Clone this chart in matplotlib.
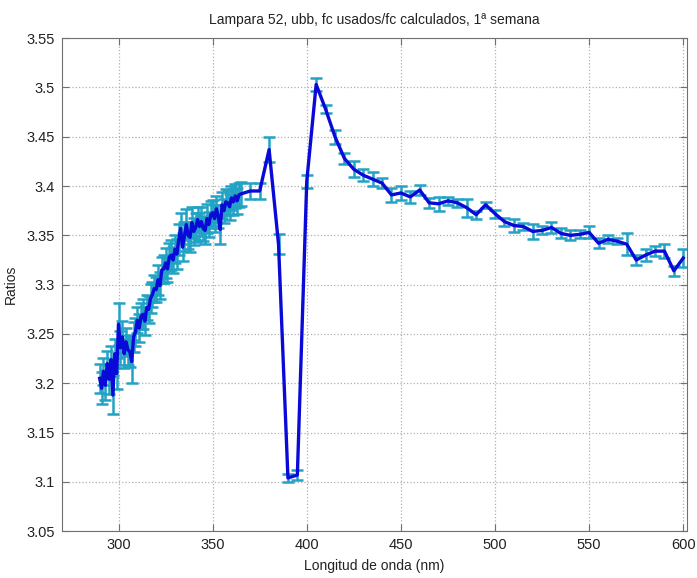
import numpy as np
import matplotlib.pyplot as plt

plt.rcParams['font.family'] = ['Liberation Sans', 'DejaVu Sans']

# Dense scan, 1 nm steps
wl_dense = list(range(290, 366))
ratio_dense = [3.205, 3.195, 3.212, 3.198, 3.220, 3.204, 3.224, 3.188, 3.230, 3.210,
               3.260, 3.236, 3.247, 3.230, 3.242, 3.234, 3.232, 3.222, 3.247, 3.252,
               3.264, 3.256, 3.268, 3.270, 3.263, 3.277, 3.275, 3.286, 3.290, 3.296,
               3.295, 3.305, 3.299, 3.315, 3.316, 3.322, 3.316, 3.328, 3.330, 3.325,
               3.336, 3.331, 3.346, 3.357, 3.338, 3.349, 3.361, 3.350, 3.348, 3.363,
               3.354, 3.358, 3.366, 3.359, 3.364, 3.357, 3.355, 3.367, 3.361, 3.371,
               3.373, 3.367, 3.377, 3.369, 3.356, 3.381, 3.375, 3.384, 3.383, 3.379,
               3.388, 3.384, 3.390, 3.385, 3.391, 3.392]
err_dense = [0.015, 0.016, 0.014, 0.015, 0.013, 0.015, 0.014, 0.019, 0.015, 0.016,
             0.021, 0.017, 0.016, 0.015, 0.014, 0.015, 0.016, 0.022, 0.015, 0.014,
             0.013, 0.014, 0.013, 0.015, 0.014, 0.013, 0.014, 0.015, 0.013, 0.014,
             0.013, 0.015, 0.014, 0.013, 0.014, 0.015, 0.013, 0.014, 0.015, 0.013,
             0.014, 0.015, 0.016, 0.016, 0.014, 0.015, 0.016, 0.014, 0.015, 0.016,
             0.014, 0.015, 0.013, 0.014, 0.015, 0.013, 0.014, 0.015, 0.013, 0.014,
             0.013, 0.014, 0.013, 0.012, 0.015, 0.013, 0.012, 0.013, 0.012, 0.013,
             0.012, 0.013, 0.012, 0.013, 0.012, 0.012]

# Coarse scan, 5 nm steps
wl_coarse = list(range(370, 601, 5))
ratio_coarse = [3.395, 3.395, 3.437, 3.341, 3.104, 3.107, 3.405, 3.503, 3.478, 3.450,
                3.428, 3.417, 3.411, 3.407, 3.403, 3.391, 3.393, 3.389, 3.396, 3.383,
                3.382, 3.385, 3.383, 3.378, 3.371, 3.381, 3.372, 3.364, 3.360, 3.359,
                3.354, 3.355, 3.358, 3.352, 3.350, 3.351, 3.353, 3.342, 3.346, 3.344,
                3.341, 3.325, 3.330, 3.334, 3.334, 3.314, 3.327]
err_coarse = [0.008, 0.008, 0.013, 0.010, 0.004, 0.005, 0.0065, 0.007, 0.004, 0.007,
              0.006, 0.008, 0.006, 0.007, 0.005, 0.007, 0.007, 0.006, 0.005, 0.005,
              0.007, 0.004, 0.004, 0.009, 0.004, 0.003, 0.004, 0.004, 0.007, 0.004,
              0.008, 0.004, 0.006, 0.005, 0.005, 0.004, 0.006, 0.005, 0.004, 0.003,
              0.011, 0.005, 0.006, 0.005, 0.007, 0.005, 0.009]

wl = np.array(wl_dense + wl_coarse)
ratio = np.array(ratio_dense + ratio_coarse)
err = np.array(err_dense + err_coarse)

fig = plt.figure(figsize=(6.97, 5.78), dpi=100)
ax = fig.add_axes([0.089, 0.081, 0.8967, 0.853])

ax.errorbar(wl, ratio, yerr=err, fmt='none', ecolor='#22a2c4', elinewidth=1.8,
            capsize=4.5, capthick=1.8, zorder=2)
ax.plot(wl, ratio, color='#0a0ad8', linewidth=2.4, zorder=3)

ax.set_xlim(270, 602)
ax.set_ylim(3.05, 3.55)
ax.set_xticks(np.arange(300, 601, 50))
yt = np.arange(3.05, 3.551, 0.05)
ax.set_yticks(yt)
ax.set_yticklabels([('%.2f' % v).rstrip('0') for v in yt])

ax.grid(True, linestyle=':', color='#b0b0b0', linewidth=0.9)
ax.tick_params(direction='in', top=True, right=True, length=5, colors='#707070',
               labelcolor='#222222', labelsize=10.5, pad=5)
for s in ax.spines.values():
    s.set_color('#707070')

ax.set_title('Lampara 52, ubb, fc usados/fc calculados, 1ª semana', fontsize=10,
             color='#222222', pad=10)
ax.set_xlabel('Longitud de onda (nm)', fontsize=10, color='#222222', labelpad=5)
ax.set_ylabel('Ratios', fontsize=10, color='#222222', labelpad=6)

fig.savefig('out.png', dpi=100, facecolor='white')
